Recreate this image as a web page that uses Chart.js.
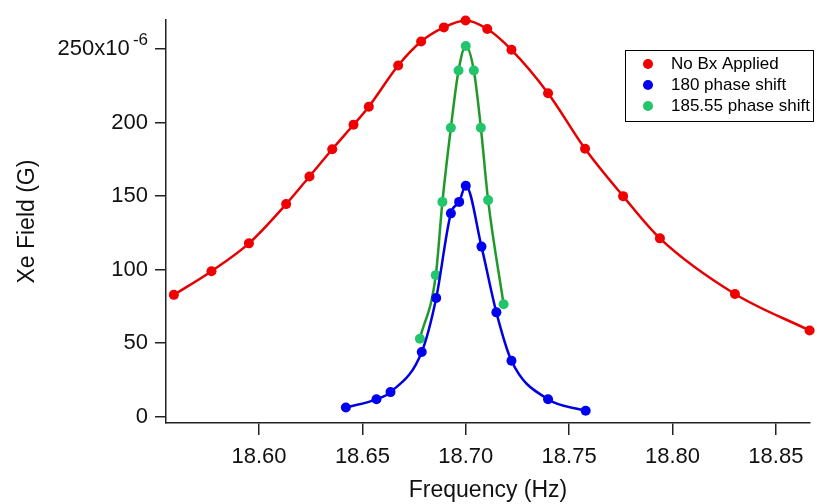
<!DOCTYPE html>
<html>
<head>
<meta charset="utf-8">
<script src="https://cdn.jsdelivr.net/npm/chart.js@4"></script>
<style>
  html, body { margin: 0; padding: 0; background: #fff; }
  canvas { display: block; }
</style>
</head>
<body>
<canvas id="chart" width="817" height="504"></canvas>
<script>
// values, field in units of 1e-6 G
const seriesNames = ['No Bx Applied', '180 phase shift', '185.55 phase shift'];

const redFreq = [18.5588, 18.5770, 18.5951, 18.6131, 18.6244, 18.6354, 18.6457, 18.6531, 18.6673, 18.6784,
                 18.6894, 18.6999, 18.7104, 18.7221, 18.7398, 18.7577, 18.7761, 18.7939, 18.8302, 18.8663];
const redField = [82.8, 98.9, 117.8, 144.5, 163.3, 181.8, 198.4, 210.7, 238.7, 255.0,
                  264.6, 269.3, 263.5, 249.4, 219.9, 182.1, 149.9, 121.2, 83.4, 58.6];

const blueFreq = [18.6420, 18.6568, 18.6636, 18.6787, 18.6857, 18.6928, 18.6968, 18.7000, 18.7076, 18.7148,
                  18.7221, 18.7398, 18.7580];
const blueField = [6.2, 11.8, 16.7, 44.0, 80.7, 138.2, 146.0, 157.0, 115.6, 70.9, 38.0, 11.8, 4.0];

const greenFreq = [18.6778, 18.6855, 18.6887, 18.6928, 18.6965, 18.7000, 18.7039, 18.7073, 18.7108, 18.7183];
const greenField = [53.0, 96.2, 146.0, 196.4, 235.3, 252.0, 235.3, 196.4, 147.2, 76.4];

const xTicks = [18.60, 18.65, 18.70, 18.75, 18.80, 18.85];
const yTicks = [0, 50, 100, 150, 200, 250];
const yExponent = '-6';

const pts = (xs, ys) => xs.map((x, i) => ({ x: x, y: ys[i] }));

function series(label, xs, ys, line, marker) {
  return {
    label: label,
    data: pts(xs, ys),
    showLine: true,
    borderColor: line,
    borderWidth: 2.5,
    backgroundColor: marker,
    pointBackgroundColor: marker,
    pointBorderColor: marker,
    pointRadius: 5,
    pointBorderWidth: 0,
    cubicInterpolationMode: 'monotone',
    clip: false
  };
}

const fontFamily = '"Liberation Sans", Arial, sans-serif';

// legend box drawn inside the plot, like the original
const boxLegend = {
  id: 'boxLegend',
  afterDraw(chart) {
    const ctx = chart.ctx;
    const x0 = 625, y0 = 50, w = 188, h = 71;
    ctx.save();
    ctx.fillStyle = '#fff';
    ctx.fillRect(x0, y0, w, h);
    ctx.strokeStyle = '#000';
    ctx.lineWidth = 1;
    ctx.strokeRect(x0 + 0.5, y0 + 0.5, w, h);
    ctx.font = '17px ' + fontFamily;
    ctx.textBaseline = 'middle';
    chart.data.datasets.forEach((ds, i) => {
      const cy = y0 + 14 + i * 21;
      ctx.fillStyle = ds.pointBackgroundColor;
      ctx.beginPath();
      ctx.arc(x0 + 23, cy, 5, 0, Math.PI * 2);
      ctx.fill();
      ctx.fillStyle = '#000';
      ctx.fillText(ds.label, x0 + 46, cy);
    });
    ctx.restore();
  }
};

// superscript exponent after the top y tick label
const exponentLabel = {
  id: 'exponentLabel',
  afterDraw(chart) {
    const y = chart.scales.y;
    const top = yTicks[yTicks.length - 1];
    const py = y.getPixelForValue(top);
    const ctx = chart.ctx;
    ctx.save();
    ctx.font = '17px ' + fontFamily;
    ctx.fillStyle = '#111';
    ctx.textAlign = 'right';
    ctx.textBaseline = 'middle';
    ctx.fillText(yExponent, y.right - 18, py - 9);
    ctx.restore();
  }
};

const tickFont = { family: fontFamily, size: 22 };
const titleFont = { family: fontFamily, size: 23 };

new Chart(document.getElementById('chart'), {
  type: 'scatter',
  data: {
    datasets: [
      series(seriesNames[0], redFreq, redField, '#e60000', '#f00000'),
      series(seriesNames[1], blueFreq, blueField, '#0000e0', '#0000f0'),
      series(seriesNames[2], greenFreq, greenField, '#1f9a2a', '#22c46c')
    ]
  },
  options: {
    responsive: false,
    animation: false,
    layout: { padding: { left: 0, top: 15, right: 7, bottom: 0 } },
    plugins: {
      legend: { display: false },
      tooltip: { enabled: false }
    },
    scales: {
      x: {
        type: 'linear',
        min: 18.555,
        max: 18.8665,
        afterBuildTicks: s => { s.ticks = xTicks.map(v => ({ value: v })); },
        afterFit: s => { s.height = 81; },
        border: { color: '#222', width: 1.5 },
        grid: { drawOnChartArea: false, tickLength: 12, color: '#222', lineWidth: 1.5 },
        ticks: {
          color: '#111',
          font: tickFont,
          padding: 9,
          maxRotation: 0,
          callback: v => v.toFixed(2)
        },
        title: {
          display: true,
          text: 'Frequency (Hz)',
          color: '#111',
          font: titleFont,
          padding: { top: 0, bottom: 0 }
        }
      },
      y: {
        min: -4.3,
        max: 269.5,
        afterBuildTicks: s => { s.ticks = yTicks.map(v => ({ value: v })); },
        afterFit: s => { s.width = 166; },
        border: { color: '#222', width: 1.5 },
        grid: { drawOnChartArea: false, tickLength: 11, color: '#222', lineWidth: 1.5 },
        ticks: {
          color: '#111',
          font: tickFont,
          padding: 7,
          // room left for the exponent drawn by the plugin
          callback: v => (v === 250 ? '250x10   ' : String(v))
        },
        title: {
          display: true,
          text: 'Xe Field (G)',
          color: '#111',
          font: titleFont,
          padding: { top: 14, bottom: 0 }
        }
      }
    }
  },
  plugins: [boxLegend, exponentLabel]
});
</script>
</body>
</html>
